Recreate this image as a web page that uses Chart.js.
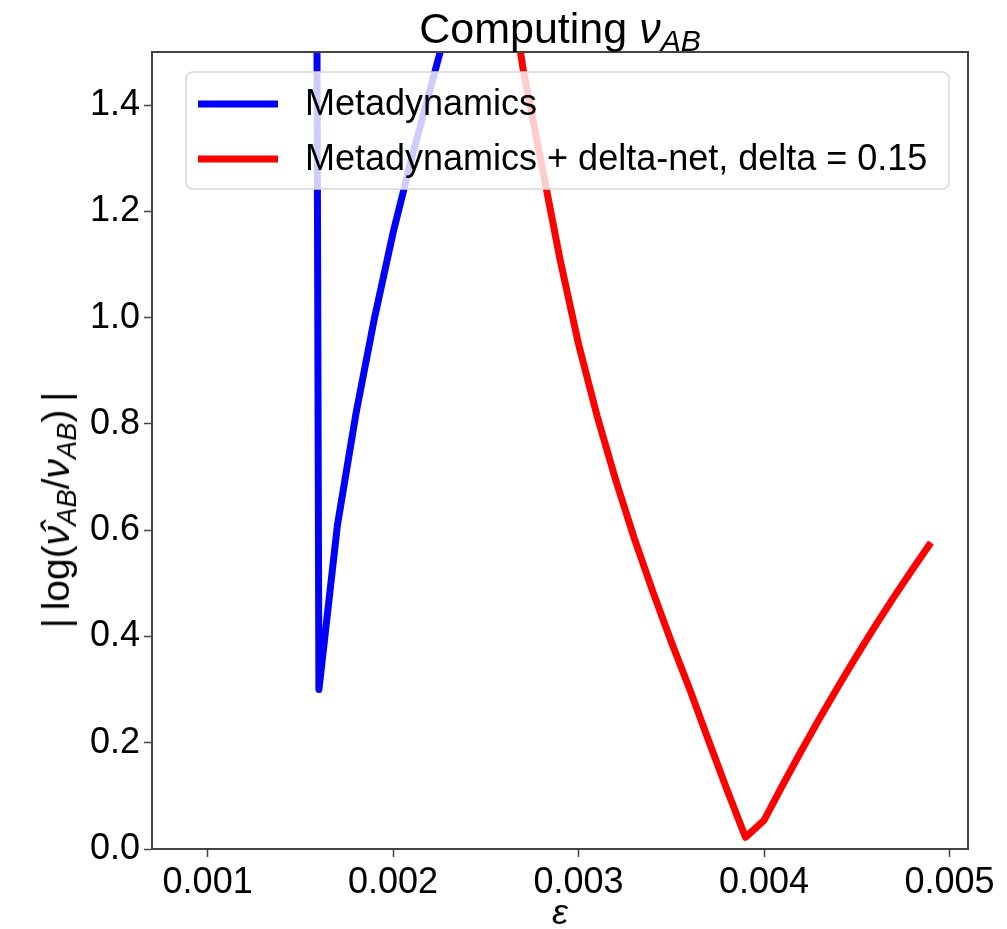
<!DOCTYPE html>
<html>
<head>
<meta charset="utf-8">
<script src="https://cdn.jsdelivr.net/npm/chart.js@4.4.0/dist/chart.umd.min.js"></script>
<style>
    body { margin: 0; background: #fff; }
    #wrap { position: relative; width: 1007px; height: 929px; }
    #chart { position: absolute; left: 0; top: 0; }
    .lbl { position: absolute; font-family: "Liberation Sans", Arial, sans-serif; color: #000; white-space: nowrap; line-height: 1; }
    .lbl sub { font-size: 70%; vertical-align: -0.25em; }
    #title { font-size: 43px; left: 560px; top: 7px; transform: translateX(-50%); }
    #xlab { font-size: 36px; left: 560px; top: 894px; transform: translateX(-50%); }
    #ylab { font-size: 39px; left: 58px; top: 510px; transform: translate(-50%, -50%) rotate(-90deg); }
</style>
</head>
<body>
<div id="wrap">
    <canvas id="chart" width="1007" height="929"></canvas>
    <div class="lbl" id="title">Computing <i>ν<sub>AB</sub></i></div>
    <div class="lbl" id="ylab">|&thinsp;log(<i>ν̂<sub>AB</sub></i>/<i>ν<sub>AB</sub></i>)&thinsp;|</div>
    <div class="lbl" id="xlab"><i>ε</i></div>
</div>
<script>
// ==================== DATA ====================
const xTicks = [0.001, 0.002, 0.003, 0.004, 0.005];
const yTicks = [0.0, 0.2, 0.4, 0.6, 0.8, 1.0, 1.2, 1.4];

// Metadynamics (blue); first point is far above the plotted range
const blueEps = [0.0015, 0.0016, 0.0017, 0.0018, 0.0019, 0.0020, 0.0021, 0.0022, 0.0023];
const blueErr = [12.0, 0.30, 0.61, 0.82, 1.00, 1.16, 1.30, 1.43, 1.56];

// Metadynamics + delta-net (red)
const redEps = [0.0026, 0.0027, 0.0028, 0.0029, 0.0030, 0.0031, 0.0032, 0.0033, 0.0034, 0.0035,
                0.0036, 0.0037, 0.0038, 0.0039, 0.0040, 0.0041, 0.0042, 0.0043, 0.0044, 0.0045,
                0.0046, 0.0047, 0.0048, 0.0049];
const redErr = [1.70, 1.47, 1.29, 1.11, 0.95, 0.815, 0.695, 0.585, 0.485, 0.39,
                0.30, 0.205, 0.112, 0.022, 0.054, 0.120, 0.184, 0.246, 0.306, 0.364,
                0.420, 0.474, 0.526, 0.577];

const seriesNames = ['Metadynamics', 'Metadynamics + delta-net, delta = 0.15'];
const seriesColors = ['#0000ff', '#ff0000'];

const FONT = '"Liberation Sans", Arial, sans-serif';
const AXIS = '#444';

function toPoints(xs, ys) {
    return xs.map((x, i) => ({ x: x, y: ys[i] }));
}

// ==================== PLUGINS ====================
const framePlugin = {
    id: 'frame',
    afterDraw(chart) {
        const { ctx, chartArea: a } = chart;
        ctx.save();
        ctx.strokeStyle = AXIS;
        ctx.lineWidth = 2;
        ctx.strokeRect(a.left, a.top, a.right - a.left, a.bottom - a.top);
        ctx.restore();
    }
};

const legendPlugin = {
    id: 'boxLegend',
    afterDatasetsDraw(chart) {
        const ctx = chart.ctx;
        const box = { x: 186, y: 72, w: 763, h: 117, r: 7 };
        ctx.save();
        ctx.beginPath();
        ctx.roundRect(box.x, box.y, box.w, box.h, box.r);
        ctx.fillStyle = 'rgba(255,255,255,0.8)';
        ctx.fill();
        ctx.strokeStyle = '#d6d6d6';
        ctx.lineWidth = 1.5;
        ctx.stroke();

        ctx.font = '36px ' + FONT;
        ctx.textBaseline = 'middle';
        ctx.fillStyle = '#000';
        chart.data.datasets.forEach((ds, i) => {
            const cy = 104 + i * 55;
            ctx.beginPath();
            ctx.moveTo(198, cy);
            ctx.lineTo(278, cy);
            ctx.strokeStyle = ds.borderColor;
            ctx.lineWidth = 7;
            ctx.stroke();
            ctx.fillText(ds.label, 305, cy + 1);
        });
        ctx.restore();
    }
};

// ==================== CHART ====================
new Chart(document.getElementById('chart'), {
    type: 'line',
    data: {
        datasets: [
            {
                label: seriesNames[0],
                data: toPoints(blueEps, blueErr),
                borderColor: seriesColors[0],
                borderWidth: 7,
                pointRadius: 0,
                borderJoinStyle: 'round',
                tension: 0
            },
            {
                label: seriesNames[1],
                data: toPoints(redEps, redErr),
                borderColor: seriesColors[1],
                borderWidth: 7,
                pointRadius: 0,
                borderJoinStyle: 'round',
                tension: 0
            }
        ]
    },
    options: {
        responsive: false,
        animation: false,
        devicePixelRatio: 1,
        layout: { padding: { left: 0, top: 52, right: 39, bottom: 0 } },
        plugins: {
            legend: { display: false },
            title: { display: false },
            tooltip: { enabled: false }
        },
        scales: {
            x: {
                type: 'linear',
                min: 0.0007,
                max: 0.0051,
                afterBuildTicks: s => { s.ticks = xTicks.map(v => ({ value: v })); },
                afterFit: s => { s.height = 80; },
                ticks: {
                    font: { family: FONT, size: 36 },
                    color: '#000',
                    padding: 4,
                    maxRotation: 0,
                    callback: v => v.toFixed(3)
                },
                grid: { drawOnChartArea: false, drawTicks: true, tickLength: 8, tickColor: AXIS, tickWidth: 1.5 },
                border: { display: true, color: AXIS, width: 2 }
            },
            y: {
                type: 'linear',
                min: 0,
                max: 1.5,
                afterBuildTicks: s => { s.ticks = yTicks.map(v => ({ value: v })); },
                afterFit: s => { s.width = 152; },
                ticks: {
                    font: { family: FONT, size: 36 },
                    color: '#000',
                    padding: 4,
                    callback: v => v.toFixed(1)
                },
                grid: { drawOnChartArea: false, drawTicks: true, tickLength: 8, tickColor: AXIS, tickWidth: 1.5 },
                border: { display: true, color: AXIS, width: 2 }
            }
        }
    },
    plugins: [framePlugin, legendPlugin]
});
</script>
</body>
</html>
